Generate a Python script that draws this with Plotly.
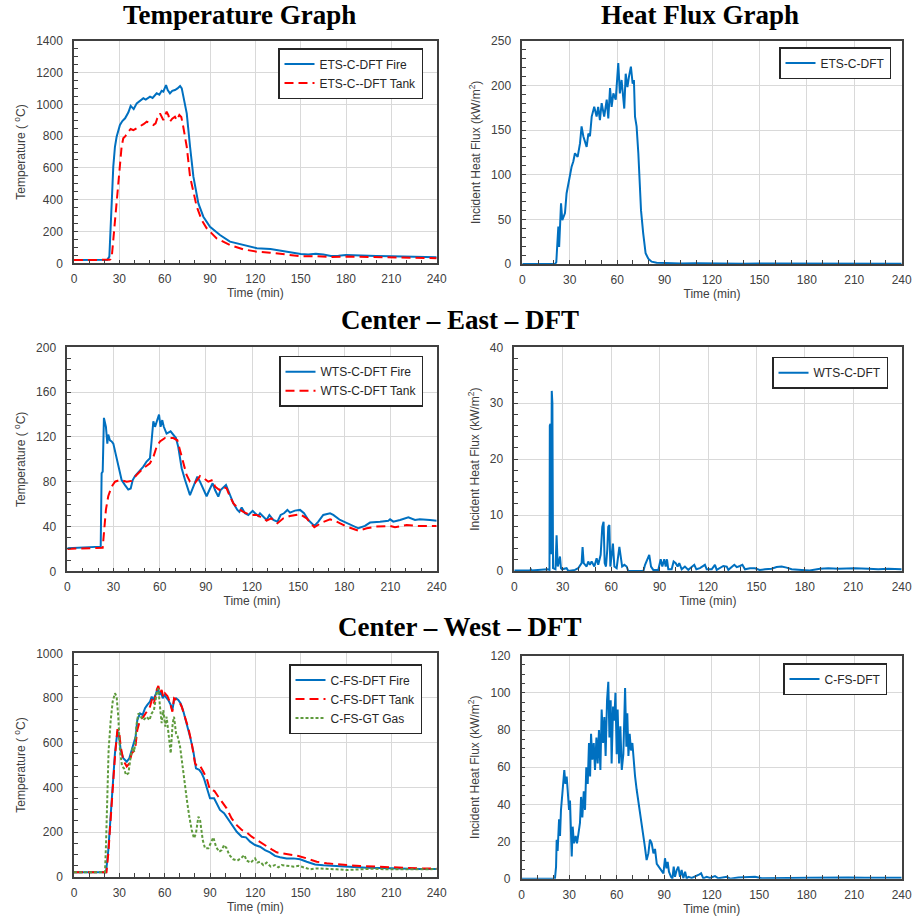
import plotly.graph_objects as go

# ---------------- Panel A: ETS-C-DFT temperature ----------------
tA_fire = [0, 10, 21, 22, 23.4, 24.3, 25, 26, 27.1, 28.2, 30.4, 32, 33.8, 36, 37.5, 38.2, 39.5, 41.5, 43.5, 45.9,
           47.5, 50.3, 52, 54.7, 56.5, 58, 59.1, 60.9, 62, 63.5, 65, 66.8, 68.5, 70.2, 71.3, 72.3, 74.6, 76.8, 79, 82.3,
           85.6, 90, 96.6, 103.2, 112, 119.8, 121, 130, 135, 140, 145, 150, 155, 160, 165, 170, 175, 180, 185, 190,
           200, 210, 220, 230, 240]
vA_fire = [20, 21, 22, 22, 42, 230, 440, 608, 733, 796, 870, 895, 912, 950, 990, 985, 970, 1006, 1020, 1038,
           1030, 1048, 1040, 1069, 1060, 1085, 1080, 1121, 1090, 1069, 1085, 1090, 1100, 1115, 1100, 1048, 943, 733, 545, 377,
           293, 230, 178, 136, 115, 100, 95, 90, 82, 75, 65, 58, 56, 60, 55, 46, 48, 52, 50, 48,
           46, 45, 42, 40, 38]
tA_tank = [0, 10, 22, 23.4, 24.2, 25, 26, 27.1, 28.2, 29.3, 30.4, 31.5, 32.6, 34, 36, 37.5, 39.3, 41.5, 43.7, 46,
           48.1, 50.3, 52.5, 54, 55.1, 56.9, 58, 59.1, 61.3, 62.5, 63.5, 65, 66.8, 68, 69.7, 71, 72.3, 74.6, 76.8, 79,
           81.2, 84.5, 87.8, 94.4, 103.2, 112, 120.9, 129.7, 140, 150, 160, 170, 180, 190, 200, 210, 220, 230, 240]
vA_tank = [20, 20, 20, 22, 25, 42, 147, 272, 377, 524, 650, 733, 786, 800, 828, 845, 838, 850, 859, 875,
           891, 880, 870, 880, 912, 943, 920, 901, 954, 930, 891, 910, 922, 900, 933, 920, 859, 733, 545, 440,
           356, 272, 220, 157, 115, 88, 73, 67, 55, 45, 45, 40, 42, 40, 38, 36, 34, 33, 32]

# ---------------- Panel B: ETS-C-DFT heat flux ----------------
tB = [0, 10, 20.7, 21.5, 22.8, 23.3, 24.5, 25.3, 27, 28, 30.2, 31.2, 32.3, 33.3, 35, 36.5, 37.5, 38.6, 40.7, 41.8,
      42.8, 43.9, 45.5, 47, 48, 49.1, 50.2, 51.8, 53.4, 54.4, 55.5, 56.5, 57.6, 59.1, 60.7, 61.7, 62.8, 63.8, 64.5, 65.4,
      66.5, 67.5, 68.7, 69.8, 70.6, 71.3, 72.3, 73.4, 74.4, 75.1, 76.5, 78, 79.7, 81.8, 85, 90, 95, 100, 110, 120,
      130, 140, 150, 160, 170, 180, 190, 200, 210, 220, 230, 240]
vB = [0, 0, 0, 2, 42, 19, 68, 49, 57, 79, 101, 109, 115, 124, 120, 135, 154, 143, 131, 146,
      143, 165, 176, 165, 176, 161, 180, 165, 184, 163, 197, 176, 191, 184, 225, 191, 206, 187, 174, 213,
      198, 210, 221, 202, 206, 165, 154, 124, 87, 60, 34, 12, 6, 2.6, 1.5, 1, 0.8, 0.6, 0.8, 0.5,
      0.6, 0.4, 0.5, 0.4, 0.3, 0.4, 0.3, 0.3, 0.3, 0.2, 0.3, 0.3]

# ---------------- Panel C: WTS-C-DFT temperature ----------------
tC_fire = [0, 10, 21.7, 22.3, 23, 23.8, 25.1, 26, 26.6, 27.7, 28.8, 29.9, 31, 33.1, 35.3, 37.5, 39.6, 41.2, 42.5, 44,
           47.2, 49.4, 51.5, 53.7, 54.8, 55.9, 57, 58, 59.6, 60.6, 61.7, 62.7, 64.5, 67.1, 68.9, 70.6, 72.1, 74.3, 76.5, 79.7,
           81.9, 84.5, 86.2, 88.4, 90.5, 92.3, 94.4, 96, 98.1, 99.6, 101.8, 103.1, 105.3, 107.9, 110.5, 111.8, 113.3, 115.4, 117.6, 120.4,
           122, 124.1, 125.2, 127.4, 129.5, 131.3, 133.9, 136.5, 138.6, 140.8, 143, 144.7, 147.9, 151.2, 153.8, 156.6, 160.5, 163.1, 166.3, 170.7,
           172.8, 177.2, 183.7, 189.1, 193.4, 196.7, 203.2, 208.6, 209.7, 211.8, 216.2, 221.6, 225.9, 229, 235.6, 240]
vC_fire = [20.5, 21, 22, 87.5, 89, 137, 129, 114, 122, 117, 116, 114, 107, 93.5, 81.5, 77, 73, 74, 81.5, 85,
           90, 93.5, 98, 101, 117, 134, 129, 134, 140, 129, 135, 129, 123, 125, 122, 119, 111, 92, 81.5, 68,
           75.6, 84.5, 80, 72.6, 67, 72.6, 78.6, 72.6, 66.7, 72.6, 75.6, 77, 69.6, 60.7, 54.8, 53, 57, 51.8, 50.3, 54,
           51.8, 49.4, 51.8, 48.8, 45.8, 50.3, 45.8, 44.3, 50.3, 51.8, 54.8, 52.4, 54.2, 54.8, 51.8, 45.8, 40.5, 44.3, 50.3, 51.8,
           50.3, 45.8, 41.4, 38.4, 40.5, 43.5, 44.3, 45.2, 46.4, 44.3, 45.8, 48.2, 45.8, 46.4, 45.8, 45.2]
tC_tank = [0, 10, 23, 23.8, 25.1, 26.6, 28.8, 31, 34.2, 38.6, 41.8, 45, 49.4, 53.7, 55.9, 58, 60.2, 63.5, 68.9, 71.5,
           74.3, 77.5, 79.7, 83, 86.2, 88.8, 91.6, 94.4, 96, 98.8, 100.9, 103.5, 105.7, 107.9, 111.1, 114.4, 118.7, 123, 127.4, 129.5,
           132.5, 136.5, 140.4, 144.7, 151.2, 155.5, 160.5, 165.3, 170.7, 175, 181.5, 189.1, 194.5, 201, 209.7, 212.9, 220.5, 227, 240]
vC_tank = [20, 20.5, 21, 34, 55, 67, 75.6, 80, 81.5, 80, 80.7, 86, 92, 96.4, 102, 111, 116, 119, 119, 117,
           102, 86, 80, 79, 85, 83, 80, 81.5, 75.6, 72.6, 75.6, 74, 66.7, 60.7, 56, 53, 50.3, 50.3, 47.3, 45.2,
           47.3, 42.9, 47.3, 49.4, 50.9, 47.3, 39.3, 43.5, 46.4, 44.3, 39.9, 36.3, 38.4, 39.9, 40.5, 39.3, 41.4, 40.5, 40.5]

# ---------------- Panel D: WTS-C-DFT heat flux ----------------
tD = [0, 10, 10.3, 10.6, 20.5, 21.8, 22.0, 22.4, 22.8, 23.2, 23.6, 24.0, 25.5, 26.2, 26.9, 27.7, 28.3, 28.9, 29.5, 32.4,
      33.5, 37.6, 39.6, 41.7, 42.3, 43, 44.8, 45.8, 46.8, 47.9, 49.6, 51, 52, 53.5, 54.5, 55.3, 56, 56.8, 57.6, 58.2,
      58.9, 59.5, 60.3, 61.1, 62, 63.4, 65.1, 65.9, 66.8, 68.2, 69.6, 70.6, 80, 81, 82.6, 83.6, 84.7, 86.1, 89.2, 90.7,
      91.7, 92.9, 93.8, 94.6, 95.4, 97.5, 98.7, 100, 101.2, 102.2, 103.7, 105.7, 107.8, 111.5, 112.8, 115, 118.1, 119.2, 122.3, 124.3,
      125.4, 129.5, 131.6, 132.6, 136.3, 137.8, 139.8, 141.3, 142.9, 146, 149.1, 152, 155.3, 159.4, 162.5, 165.6, 168.7, 171.8, 178, 183,
      189.4, 194.5, 200.7, 208, 211, 219.3, 225.5, 231.7, 240]
vD = [0.1, 0.1, 0.4, 0.1, 0.3, 0.2, 26, 26.3, 3, 32.2, 30, 0.5, 0.3, 6.4, 0.8, 1.7, 2.6, 0.5, 0.3, 0.5,
      0, 0.2, 0.5, 1.4, 4.3, 1.4, 0.8, 1.7, 1.1, 1.7, 0.8, 2.3, 1.1, 2.9, 7.9, 8.8, 1.4, 0.8, 3.8, 7.9,
      8.2, 0.8, 3.2, 4.9, 0.8, 0.5, 4.3, 2.6, 0.8, 1.1, 0.8, 0, 0, 1.1, 2.3, 2.9, 0.8, 0.2, 0.2, 2.1,
      0.8, 2.1, 0.8, 2.1, 0.3, 0.3, 1.7, 1.4, 0.8, 1.4, 0.3, 0.8, 0.2, 1.1, 0.3, 0.5, 1.1, 0.3, 0.3, 1.1,
      0.2, 0.9, 0.8, 0.2, 1.1, 0.7, 0.9, 1.1, 0.3, 0.5, 0.5, 0.2, 0.3, 0.4, 0.7, 0.8, 0.6, 0.3, 0.2, 0.1,
      0.4, 0.5, 0.4, 0.5, 0.5, 0.4, 0.3, 0.4, 0.3]

# ---------------- Panel E: C-FS temperature ----------------
tE_fire = [0, 10, 21.2, 22.7, 24.9, 27.1, 28.7, 29.6, 30.9, 32.6, 34.9, 36.6, 38.2, 39.7, 40.8, 41.9, 43.7, 45.4, 47, 48.5,
           50.3, 51.4, 52.5, 54.3, 55.6, 56.5, 57.6, 58.7, 59.8, 61.3, 62.4, 64, 65.1, 66.2, 67.5, 69, 70.6, 72.4, 74.6, 76.8,
           79, 80.7, 82.9, 84.5, 86, 87.8, 90, 92.7, 94.4, 96.6, 99.3, 101.5, 104.3, 107.7, 111, 113.8, 116.5, 119.8, 123.1, 126.4,
           129.7, 133, 136.3, 140.7, 145.2, 149.6, 154, 159.5, 165, 171.6, 178.2, 184.9, 193.7, 202.5, 211.3, 220.2, 229, 240]
vE_fire = [20, 20, 20, 119, 358, 552, 649, 642, 567, 530, 515, 530, 567, 597, 627, 701, 731, 724, 754, 769,
           784, 806, 791, 821, 848, 813, 828, 799, 813, 799, 791, 769, 746, 791, 799, 791, 776, 739, 687, 627,
           560, 485, 478, 463, 440, 403, 351, 351, 328, 299, 284, 261, 231, 201, 179, 176, 157, 142, 134, 119,
           109, 93, 87, 82, 82, 78, 67, 55, 51, 48, 45, 42, 40, 39, 37, 36, 34, 34]
tE_tank = [0, 10, 21.5, 22.7, 24.9, 27.1, 28.7, 29.8, 30.9, 32.6, 34.9, 36.6, 38.2, 40.4, 41.9, 43.7, 45.9, 48.1, 50.3, 51.8,
           52.9, 54.7, 55.8, 56.9, 58, 59.1, 60.2, 61.8, 63.1, 65.1, 66.2, 67.9, 69.5, 71.3, 73.5, 75.7, 77.9, 80.1, 81.6, 83.4,
           85.6, 87.8, 90, 92.9, 95.5, 97.7, 101, 104.3, 107.7, 111, 113.8, 117.6, 120.9, 124.2, 127.5, 130.8, 134.1, 138.5, 143, 148.5,
           154, 160.6, 167.2, 173.8, 180.4, 189.3, 198.1, 209.1, 218, 229, 240]
vE_tank = [20, 20, 20, 104, 328, 537, 657, 657, 582, 522, 493, 507, 552, 567, 657, 701, 716, 739, 761, 799,
           776, 836, 854, 821, 836, 803, 821, 809, 788, 739, 799, 791, 784, 761, 716, 664, 597, 507, 493, 496,
           470, 440, 388, 384, 358, 336, 306, 261, 231, 209, 201, 179, 164, 149, 134, 122, 109, 104, 97, 93,
           82, 67, 60, 55, 52, 48, 45, 43, 39, 37, 36]
tE_gas = [0, 10, 20.5, 21.2, 22.1, 22.9, 24.3, 25.6, 27.1, 28.2, 29.3, 30.4, 31.8, 33.1, 34.4, 36, 37.5, 38.8, 39.9, 41.5,
          42.6, 44.1, 45.9, 48.1, 49.9, 51.4, 52.9, 54.7, 55.8, 56.9, 58, 59.1, 60.4, 61.3, 62.4, 64, 65.3, 66.2, 67.5, 68.6,
          70.2, 71.9, 73.5, 75, 76.3, 77.9, 79.4, 80.7, 82.3, 83.4, 85.2, 86.7, 88.9, 90.4, 92.2, 94, 96, 97.7, 99.3, 101,
          102.8, 105.4, 108.1, 110.3, 112.7, 114.3, 116.9, 119.8, 121.3, 123.1, 125.3, 127.5, 130.2, 133, 135.2, 137.4, 140.7, 145.2, 148.5, 151.8,
          156.2, 160.6, 167.2, 173.8, 180.4, 189.3, 198.1, 206.9, 215.7, 226.8, 240]
vE_gas = [20, 20, 20, 149, 358, 567, 701, 784, 821, 806, 716, 567, 493, 485, 455, 463, 537, 579, 560, 687,
          731, 719, 701, 716, 701, 731, 746, 821, 843, 761, 687, 746, 672, 716, 657, 552, 687, 716, 642, 627,
          582, 493, 388, 328, 269, 209, 172, 194, 269, 254, 164, 127, 127, 149, 176, 134, 112, 119, 142, 127,
          97, 78, 72, 82, 97, 72, 63, 82, 63, 67, 52, 63, 45, 52, 42, 52, 48, 45, 49, 42,
          33, 37, 36, 33, 30, 33, 36, 33, 33, 34, 34]

# ---------------- Panel F: C-FS-DFT heat flux ----------------
tF = [0, 10, 21, 21.7, 22.1, 22.7, 23.6, 24.2, 24.8, 25.7, 26.3, 26.9, 27.6, 28.4, 29, 29.9, 30.5, 31.2, 31.6, 32.2,
      33, 34.1, 34.9, 35.8, 36.8, 37.5, 38.3, 39.2, 40, 40.8, 41.7, 42.5, 43.2, 43.8, 44.6, 45.5, 46.3, 47.2, 48, 48.8,
      49.7, 50.5, 51.4, 52.2, 53, 53.9, 54.7, 55.4, 56.2, 56.8, 57.7, 58.5, 59.2, 60, 60.6, 61.5, 62.3, 63.2, 64.2, 65.3,
      66.1, 66.7, 67.4, 68.2, 69, 69.9, 70.7, 71.6, 72.6, 73.7, 74.9, 76.2, 77.5, 78.9, 80, 81, 82.1, 83.2, 84.2, 85.3,
      86.7, 88, 89.5, 90.5, 91.4, 92.2, 93, 94.3, 95.2, 96, 96.8, 97.9, 98.9, 100, 101, 102.1, 103.2, 104.2, 105.3, 107.4,
      109.5, 111.6, 113.3, 114.7, 116.8, 118.9, 122.1, 124.2, 129.5, 131.6, 136.8, 141, 147.4, 151.6, 160, 168.4, 181, 189.5, 197.9, 206.3,
      216.8, 229.5, 240]
vF = [0, 0, 0, 6.5, 21, 15, 32, 23, 37, 46, 51, 58.5, 51, 55, 48, 37, 42, 19, 12, 28,
      19, 23, 19, 24, 30, 44, 33, 47, 37, 60, 51, 73, 55, 78, 64, 73, 58.5, 76, 62, 80,
      58.5, 91, 73, 87, 66, 96, 106, 76, 96, 62, 92.6, 85, 100, 67, 91, 62, 82, 58.5, 67, 102.6,
      71, 89, 66, 78, 69, 73, 64, 55, 48, 42, 33, 26, 19, 10, 13.6, 21, 19, 13.6, 16, 8,
      6.5, 4.7, 2.9, 11, 5.6, 9, 3.8, 1, 0, 6.5, 1, 4.7, 6.5, 1, 4.7, 0.2, 3.8, 0, 1, 0.4,
      1, 2, 2.9, 0.2, 1, 0.4, 1.4, 0.2, 1, 0, 0.7, 0.7, 1, 0.2, 0.5, 0.4, 0.5, 0.7, 0.5, 0.7,
      0.5, 0.5, 0.5]

BLUE = "#0070C0"
RED = "#FF0000"
GREEN = "#5E9A3C"
W, H = 914, 921
SANS = "Liberation Sans, Arial, sans-serif"
SERIF = "Liberation Serif, Times New Roman, serif"

fig = go.Figure()


def add(x, y, name, color, dash, n, legend):
    sfx = "" if n == 1 else str(n)
    fig.add_trace(go.Scatter(x=x, y=y, name=name, mode="lines",
                             line=dict(color=color, width=2, dash=dash),
                             xaxis="x" + sfx, yaxis="y" + sfx, legend=legend))


add(tA_fire, vA_fire, "ETS-C-DFT Fire", BLUE, "solid", 1, "legend")
add(tA_tank, vA_tank, "ETS-C--DFT Tank", RED, "9px,5px", 1, "legend")
add(tB, vB, "ETS-C-DFT", BLUE, "solid", 2, "legend2")
add(tC_fire, vC_fire, "WTS-C-DFT Fire", BLUE, "solid", 3, "legend3")
add(tC_tank, vC_tank, "WTS-C-DFT Tank", RED, "9px,5px", 3, "legend3")
add(tD, vD, "WTS-C-DFT", BLUE, "solid", 4, "legend4")
add(tE_fire, vE_fire, "C-FS-DFT Fire", BLUE, "solid", 5, "legend5")
add(tE_tank, vE_tank, "C-FS-DFT Tank", RED, "9px,5px", 5, "legend5")
add(tE_gas, vE_gas, "C-FS-GT Gas", GREEN, "3px,2px", 5, "legend5")
add(tF, vF, "C-FS-DFT", BLUE, "solid", 6, "legend6")


def px_dom_x(a, b):
    return [a / W, b / W]


def px_dom_y(top, bottom):
    return [1 - bottom / H, 1 - top / H]


panels = [
    # (xdom px, ydom px, yrange, dtick, minor, ytitle)
    ((74, 436.7), (40.7, 263.3), [0, 1400], 200, 50, "Temperature ( <sup>o</sup>C)"),
    ((522.3, 901.7), (40.7, 264), [0, 250], 50, 10, "Incident Heat Flux (kW/m<sup>2</sup>)"),
    ((67.3, 436.7), (347.3, 571.3), [0, 200], 40, 10, "Temperature ( <sup>o</sup>C)"),
    ((514.3, 901.7), (347.3, 571), [0, 40], 10, 2, "Incident Heat Flux (kW/m<sup>2</sup>)"),
    ((74, 436.7), (653.3, 876.7), [0, 1000], 200, 50, "Temperature ( <sup>o</sup>C)"),
    ((521.7, 901.7), (655.7, 878.7), [0, 120], 20, 5, "Incident Heat Flux (kW/m<sup>2</sup>)"),
]

AXC = "#404040"
layout = {}
for i, (xd, yd, yr, dt, mdt, ytitle) in enumerate(panels, start=1):
    sfx = "" if i == 1 else str(i)
    common = dict(showgrid=True, gridcolor="#d9d9d9", gridwidth=1.3, showline=True, linecolor=AXC,
                  linewidth=1.5, mirror=True, ticks="inside", ticklen=4, tickcolor=AXC, tickwidth=1,
                  zeroline=False, automargin=False, fixedrange=True, tick0=0,
                  tickfont=dict(family=SANS, size=12, color=AXC))
    layout["xaxis" + sfx] = dict(common, domain=px_dom_x(*xd), anchor="y" + sfx, range=[0, 240], dtick=30,
                                 ticklabelstandoff=4,
                                 minor=dict(dtick=10, tick0=0, ticks="inside", ticklen=4, tickcolor=AXC, showgrid=False),
                                 title=dict(text="Time (min)", standoff=3,
                                            font=dict(family=SANS, size=12, color=AXC)))
    layout["yaxis" + sfx] = dict(common, domain=px_dom_y(*yd), anchor="x" + sfx, range=yr, dtick=dt,
                                 ticklabelstandoff=7,
                                 minor=dict(dtick=mdt, tick0=0, ticks="inside", ticklen=4, tickcolor=AXC, showgrid=False),
                                 title=dict(text=ytitle, standoff=8,
                                            font=dict(family=SANS, size=12, color=AXC)))

legend_pos = [(423, 48), (891, 47), (423, 355.7), (888, 356.7), (422, 664), (887, 663)]
for i, (lx, ly) in enumerate(legend_pos, start=1):
    key = "legend" if i == 1 else "legend" + str(i)
    layout[key] = dict(x=lx / W, y=1 - ly / H, xanchor="right", yanchor="top", bgcolor="white",
                       bordercolor="#262626", borderwidth=1.5, traceorder="normal",
                       font=dict(family=SANS, size=12, color="#262626"))

titles = [("Temperature Graph", 240, 15), ("Heat Flux Graph", 700, 15),
          ("Center – East – DFT", 460, 320), ("Center – West – DFT", 460, 627)]
annotations = [dict(text=t, x=x / W, y=1 - y / H, xref="paper", yref="paper", showarrow=False,
                    xanchor="center", yanchor="middle",
                    font=dict(family=SERIF, size=27, color="black", weight="bold"))
               for t, x, y in titles]

fig.update_layout(width=W, height=H, margin=dict(l=0, r=0, t=0, b=0), template="none",
                  paper_bgcolor="white", plot_bgcolor="white", annotations=annotations, **layout)

fig.write_html("out.html")
